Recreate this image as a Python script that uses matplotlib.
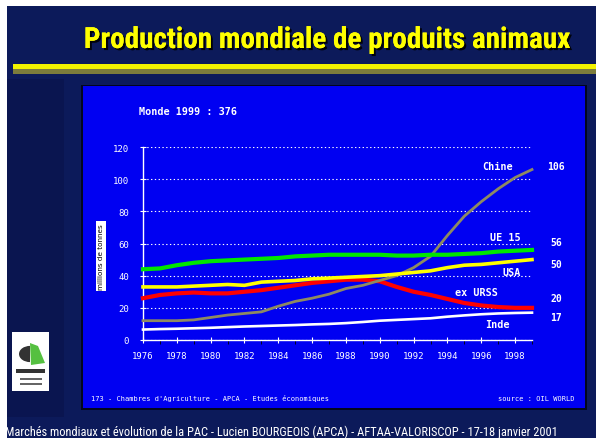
import matplotlib
matplotlib.use("Agg")
import matplotlib.pyplot as plt
from matplotlib.patches import Rectangle, Polygon, Wedge
import matplotlib.patheffects as pe
from matplotlib import font_manager

# ---------------- data ----------------
years = list(range(1976, 2000))
chine = [12, 12, 12, 12.5, 14, 15.5, 16.5, 17.5, 21, 24, 26, 28.5, 32, 34,
         37, 40, 45, 52, 65, 77, 86, 94, 101, 106]
ue15 = [44, 44.5, 46.5, 48, 49, 49.5, 50, 50.5, 51, 52, 52.5, 53, 53, 53,
        53, 52.5, 52.5, 53, 53, 53.5, 54, 55, 55.5, 56]
usa = [33, 33, 33, 33.5, 34, 34.5, 34, 36, 36.5, 37, 38, 38.5, 39, 39.5,
       40, 41, 42, 43, 45, 46.5, 47, 48, 49, 50]
ex_urss = [26, 28, 29, 29.5, 29, 29, 30, 31, 32.5, 34, 35.5, 36.5, 37.5, 37.5,
           36.5, 33, 30, 28, 25.5, 23, 21.5, 20.5, 20, 20]
inde = [6.5, 6.8, 7, 7.3, 7.6, 8, 8.4, 8.7, 9, 9.3, 9.7, 10, 10.5, 11.2,
        12, 12.5, 13, 13.5, 14.5, 15.3, 16, 16.5, 16.8, 17]
series_names = ["Chine", "UE 15", "USA", "ex URSS", "Inde"]
end_values = ["106", "56", "50", "20", "17"]
xtick_years = list(range(1976, 1999, 2))
yticks = [0, 20, 40, 60, 80, 100, 120]

title = "Production mondiale de produits animaux"
subtitle = "Monde 1999 : 376"
ylabel = "millions de tonnes"
left_note = "173 - Chambres d'Agriculture - APCA - Etudes économiques"
right_note = "source : OIL WORLD"
footer = ("Marchés mondiaux et évolution de la PAC - Lucien BOURGEOIS (APCA) - "
          "AFTAA-VALORISCOP - 17-18 janvier 2001")

# ---------------- figure ----------------
W, H = 596, 439
fig = plt.figure(figsize=(W / 100, H / 100), dpi=100)
fig.patch.set_facecolor("white")


def rect(x0, y0, x1, y1, color, z=-10):
    fig.add_artist(Rectangle((x0 / W, 1 - y1 / H), (x1 - x0) / W, (y1 - y0) / H,
                             transform=fig.transFigure, facecolor=color,
                             edgecolor="none", zorder=z))


def ftext(x, y, s, **kw):
    return fig.text(x / W, 1 - y / H, s, zorder=20, **kw)


def fit_width(txt, target_px):
    r = fig.canvas.get_renderer()
    w = txt.get_window_extent(renderer=r).width
    if w > 0:
        txt.set_fontsize(txt.get_fontsize() * target_px / w)


# pick a narrow font if one is installed
narrow = ["Liberation Sans"]
for cand in ["Liberation Sans Narrow", "Roboto Condensed", "Open Sans Condensed",
             "DejaVu Sans Condensed"]:
    try:
        font_manager.findfont(font_manager.FontProperties(family=cand),
                              fallback_to_default=False)
        narrow = [cand, "Liberation Sans"]
        break
    except Exception:
        pass

# slide background
rect(7, 7, W, H, "#0c1a5a", -20)
rect(7, 80, 64, 418, "#0a1550", -19)
# yellow rule
rect(13, 65, W, 70, "#f2f200", -18)
rect(13, 70, W, 75, "#7c7c3c", -18)
# blue panel with dark border
rect(81, 86, 587, 411, "#02061e", -17)
rect(83, 87, 585, 409, "#0000f2", -16)

# logo
rect(12, 333, 49, 392, "white", -15)
fig.add_artist(Wedge((30 / W, 1 - 355 / H), 11 / W, 90, 270,
                     transform=fig.transFigure, facecolor="#333333",
                     edgecolor="none", zorder=-14))
fig.add_artist(Polygon([(30 / W, 1 - 344 / H), (38 / W, 1 - 347 / H),
                        (45 / W, 1 - 364 / H), (31 / W, 1 - 366 / H)],
                       closed=True, transform=fig.transFigure,
                       facecolor="#55c040", edgecolor="none", zorder=-14))
rect(16, 370, 45, 374, "#333333", -14)
rect(20, 379, 42, 381, "#666666", -14)
rect(20, 384, 42, 386, "#666666", -14)

# title with shadow
t = ftext(327, 41, title, color="#ffff00", fontsize=21.5, fontweight="bold",
          family=narrow, ha="center", va="center")
fit_width(t, 487)
t.set_path_effects([pe.withSimplePatchShadow(offset=(1.5, -1.5),
                                             shadow_rgbFace="black", alpha=0.9),
                    pe.Normal()])

# footer
ft = ftext(5, 432, footer, color="white", fontsize=8.6, family=narrow,
           ha="left", va="center")
fit_width(ft, 550)

# ---------------- axes ----------------
ax = fig.add_axes([143 / W, 1 - 341 / H, (532 - 143) / W, (341 - 148) / H])
ax.set_zorder(5)
ax.patch.set_alpha(0)
ax.set_xlim(1976, 1999)
ax.set_ylim(0, 120)

ax.plot(years, inde, color="white", lw=1.9, clip_on=False, zorder=3)
ax.plot(years, ex_urss, color="#ff0000", lw=3.0, clip_on=False, zorder=4)
ax.plot(years, chine, color="#8e8a62", lw=2.0, clip_on=False, zorder=5)
ax.plot(years, usa, color="#ffff00", lw=2.6, clip_on=False, zorder=6)
ax.plot(years, ue15, color="#00e600", lw=3.0, clip_on=False, zorder=7)

for s in ["top", "right"]:
    ax.spines[s].set_visible(False)
for s in ["left", "bottom"]:
    ax.spines[s].set_color("white")
    ax.spines[s].set_linewidth(1.0)

mono = "DejaVu Sans Mono"
ax.set_xticks(xtick_years)
ax.set_xticklabels([str(y) for y in xtick_years])
ax.set_xticks(years, minor=True)
ax.set_yticks(yticks)
ax.tick_params(axis="both", colors="white", direction="inout", labelsize=6.5)
ax.tick_params(axis="x", which="major", length=4, width=0.8, pad=6)
ax.tick_params(axis="x", which="minor", length=3, width=0.6)
ax.tick_params(axis="y", which="major", length=4, width=0.8, pad=8)
for lab in ax.get_xticklabels() + ax.get_yticklabels():
    lab.set_family(mono)
ax.yaxis.grid(True, color="white", linestyle=(0, (1.2, 2.2)), lw=0.8)
ax.set_axisbelow(True)

# ---------------- annotations ----------------
ftext(139, 112, subtitle, color="white", fontsize=7.3, fontweight="bold",
      family=mono, ha="left", va="center")
ftext(101, 257, ylabel, color="black", fontsize=5.2, family="DejaVu Sans",
      rotation=90, ha="center", va="center",
      bbox=dict(boxstyle="square,pad=0.25", facecolor="white", edgecolor="none"))

label_pos = [(498, 167), (505, 238), (512, 273), (476, 293), (497, 325)]
value_pos = [(556, 167), (556, 243), (556, 265), (556, 299), (556, 318)]
for name, (x, y) in zip(series_names, label_pos):
    ftext(x, y, name, color="white", fontsize=7.3, fontweight="bold",
          family=mono, ha="center", va="center")
for val, (x, y) in zip(end_values, value_pos):
    ftext(x, y, val, color="white", fontsize=7.0, fontweight="bold",
          family=mono, ha="center", va="center")

ftext(91, 399, left_note, color="white", fontsize=5.0, family=mono,
      ha="left", va="center")
ftext(575, 399, right_note, color="white", fontsize=5.0, family=mono,
      ha="right", va="center")

fig.savefig("out.png", dpi=100, facecolor=fig.get_facecolor())
